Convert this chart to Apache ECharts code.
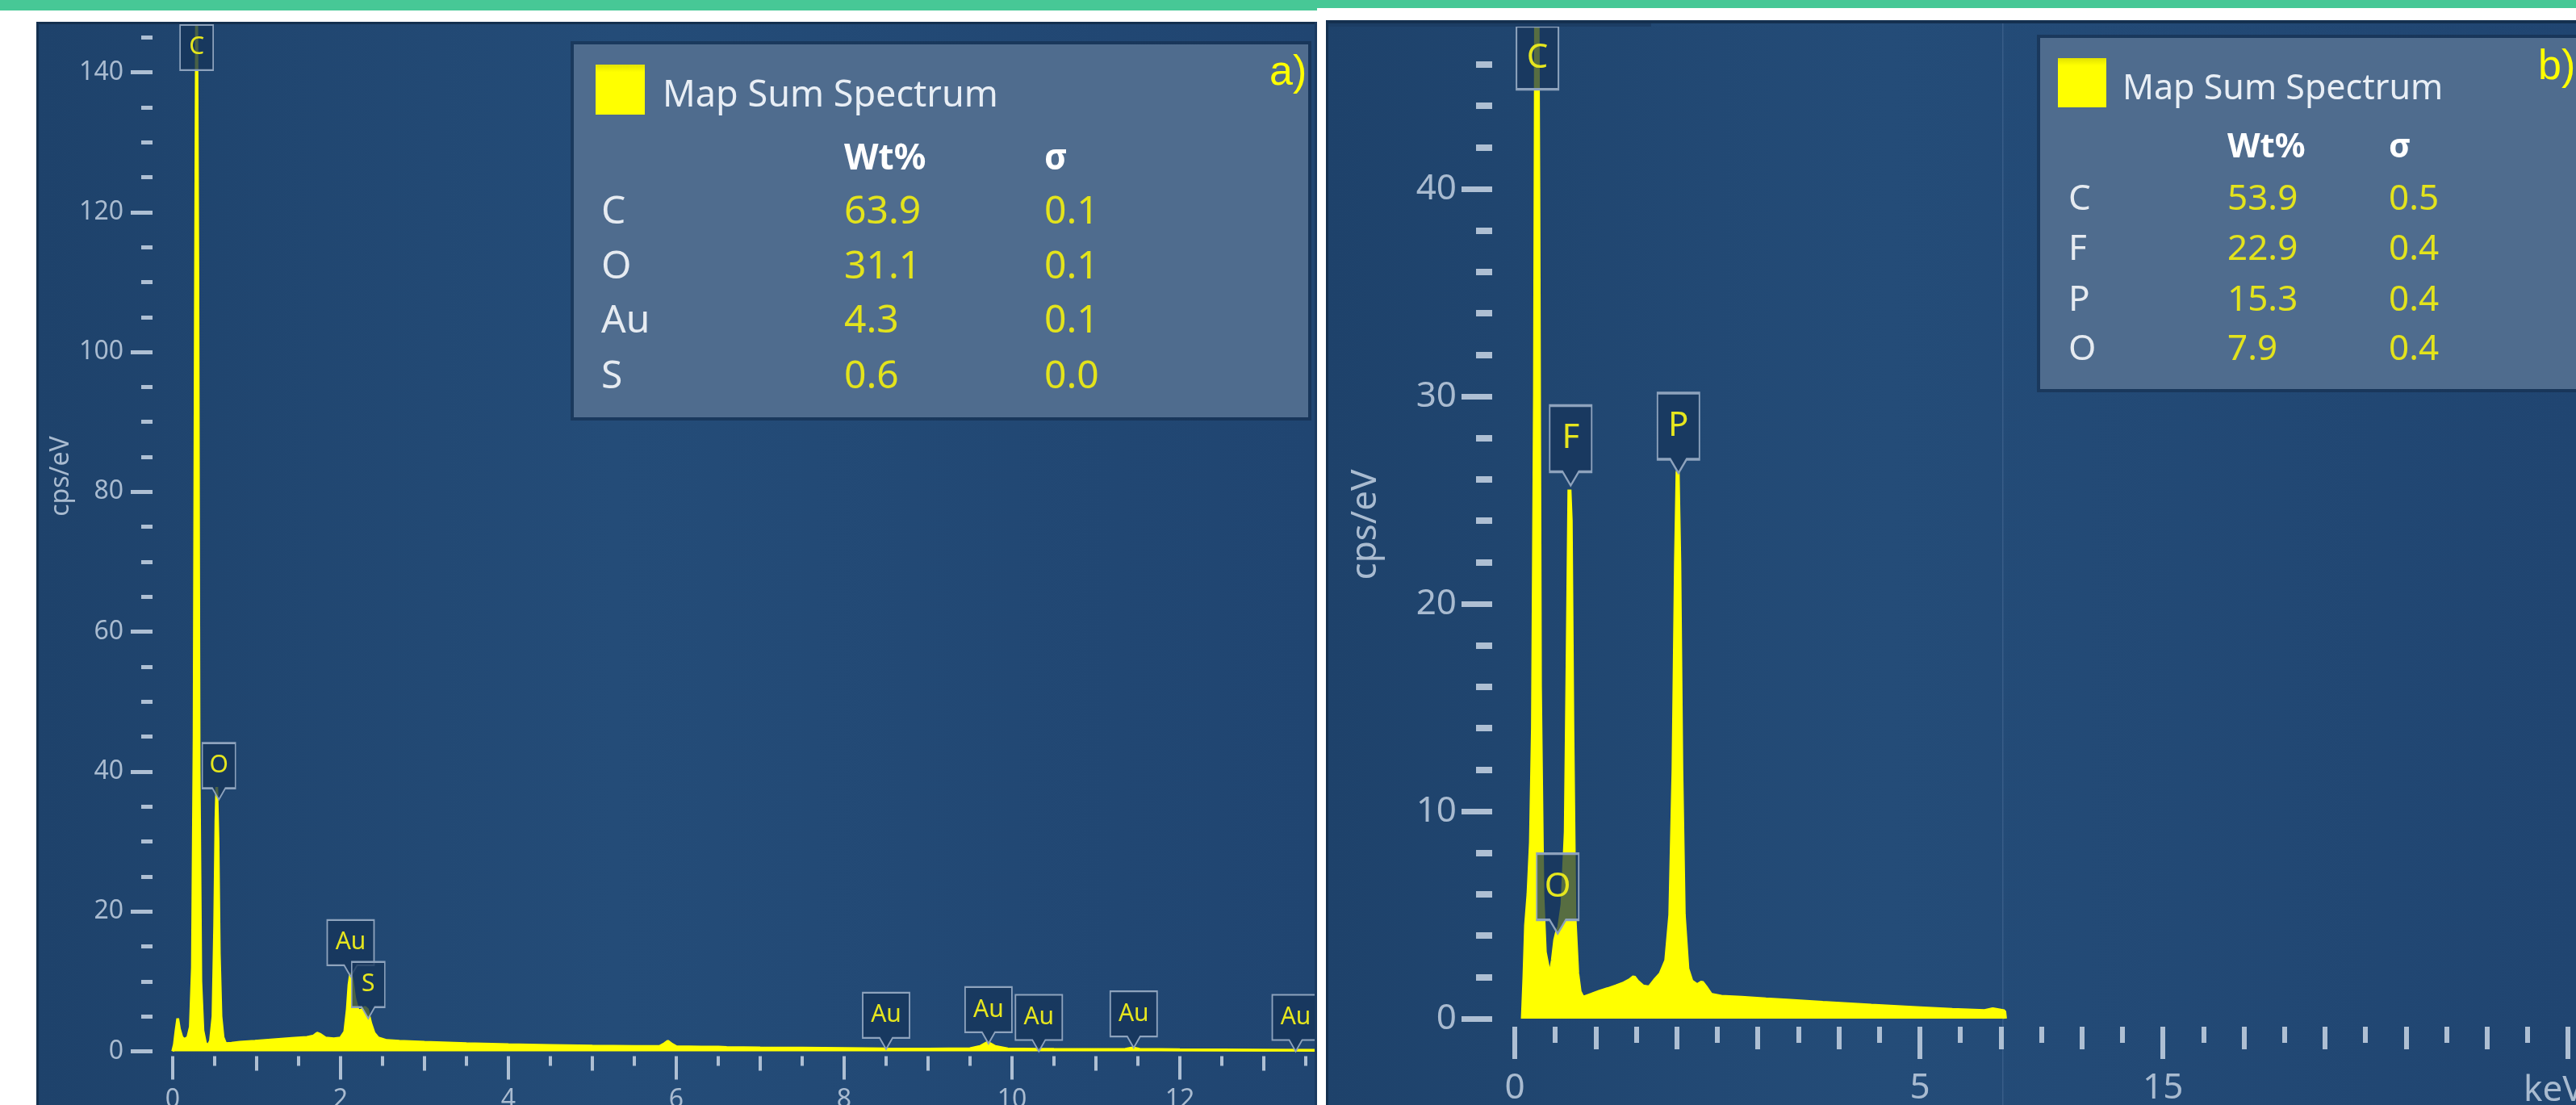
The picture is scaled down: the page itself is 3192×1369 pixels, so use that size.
<!DOCTYPE html>
<html><head><meta charset="utf-8">
<script src="https://cdn.jsdelivr.net/npm/echarts@6/dist/echarts.min.js"></script>
<style>html,body{margin:0;padding:0;background:#fff}#c{width:3192px;height:1369px}</style>
</head><body><div id="c"></div>
<script>
// ---------------- DATA ----------------
// Panel a) spectrum: [keV, cps/eV]
const spectrumA = [[0.00,0.0],[0.02,1.0],[0.04,3.0],[0.06,4.7],[0.08,3.2],[0.11,2.0],[0.14,1.7],[0.18,2.0],[0.21,3.5],[0.235,12],[0.255,45],[0.27,105],[0.285,152],[0.30,110],[0.315,40],[0.335,10],[0.36,3],[0.39,1.2],[0.42,0.8],[0.45,1.5],[0.48,5],[0.50,18],[0.515,33],[0.525,37.8],[0.54,30],[0.555,14],[0.575,5],[0.60,2],[0.63,1.1],[0.70,1.15],[0.80,1.3],[0.98,1.45],[1.20,1.65],[1.42,1.85],[1.60,2.0],[1.68,2.2],[1.72,2.6],[1.76,2.4],[1.82,1.9],[1.92,1.8],[2.00,1.9],[2.05,2.8],[2.08,6],[2.10,9.5],[2.12,11.2],[2.14,10],[2.17,7.5],[2.21,5.8],[2.25,5.9],[2.29,6.3],[2.32,6.0],[2.36,4.0],[2.40,2.6],[2.45,1.9],[2.55,1.55],[2.70,1.45],[3.00,1.3],[3.50,1.1],[4.00,0.95],[4.50,0.85],[5.00,0.75],[5.50,0.68],[5.80,0.68],[5.86,1.1],[5.90,1.45],[5.95,1.0],[6.00,0.65],[6.30,0.6],[6.50,0.62],[6.60,0.55],[7.00,0.5],[7.50,0.45],[8.00,0.4],[8.50,0.36],[9.00,0.33],[9.50,0.38],[9.62,0.7],[9.71,1.3],[9.80,0.7],[9.95,0.35],[10.30,0.3],[10.50,0.28],[11.00,0.25],[11.35,0.3],[11.44,0.5],[11.52,0.3],[12.00,0.22],[12.50,0.2],[13.00,0.18],[13.70,0.15]];
// Panel b) spectrum
const spectrumB = [[0.10,0.0],[0.12,2.0],[0.14,4.5],[0.17,6.0],[0.20,8.5],[0.225,14],[0.25,30],[0.265,50],[0.275,53],[0.29,40],[0.31,16],[0.34,6],[0.37,3.2],[0.41,2.4],[0.44,2.1],[0.47,2.8],[0.50,3.8],[0.525,4.2],[0.55,4.4],[0.59,5.5],[0.63,9],[0.655,18],[0.675,25.5],[0.69,24],[0.71,14],[0.735,5],[0.77,2.2],[0.80,1.3],[0.84,1.0],[0.95,1.15],[1.05,1.3],[1.15,1.42],[1.25,1.55],[1.35,1.7],[1.42,1.85],[1.47,2.0],[1.51,1.8],[1.58,1.55],[1.66,1.5],[1.73,1.85],[1.80,2.15],[1.87,2.8],[1.92,5],[1.96,12],[1.99,22],[2.01,26.4],[2.03,22],[2.055,12],[2.085,5],[2.13,2.4],[2.18,1.8],[2.25,1.6],[2.31,1.75],[2.35,1.55],[2.42,1.15],[2.55,1.05],[2.80,1.0],[3.10,0.92],[3.40,0.86],[3.80,0.76],[4.40,0.62],[5.00,0.5],[5.40,0.42],[5.80,0.36],[5.90,0.45],[5.97,0.4],[6.04,0.35],[6.05,0]];

// Peak identification markers: element, energy (keV), marker height (cps/eV)
const peakNamesA = ['C','O','Au','S','Au','Au','Au','Au','Au'];
const peakEnergiesA = [0.285,0.55,2.12,2.33,8.5,9.72,10.32,11.45,13.38];
const peakHeightsA = [140.3,36,10.7,4.7,0.3,1.1,0,0.5,0];
const peakNamesB = ['C','F','P','O'];
const peakEnergiesB = [0.28,0.69,2.02,0.53];
const peakHeightsB = [44.8,25.7,26.3,4.1];

// Quantification tables
const elementsA = ['C','O','Au','S'];
const wtA = [63.9,31.1,4.3,0.6];
const sigmaA = [0.1,0.1,0.1,0.0];
const elementsB = ['C','F','P','O'];
const wtB = [53.9,22.9,15.3,7.9];
const sigmaB = [0.5,0.4,0.4,0.4];

// Tick labels
const xLabelValuesA = [0,2,4,6,8,10,12];
const xLabelValuesB = [0,5,8];
const xLabelTextB = ['0','5','15'];
const xLongTicksB = [0,5,8,13];
const legendTitle = 'Map Sum Spectrum';
const yAxisTitle = 'cps/eV';

// ---------------- STYLE / LAYOUT ----------------
const FONT = 'Noto Sans';
const AXIS_TXT = '#a9bbd0';
const TICK = '#aebfd3';
const YEL = '#ffff00';
const VAL_YEL = '#e3e31c';

// panel a geometry
const A = {left:214, zeroY:1302.5, pxPerY:8.664, yMax:160, xMax:13.71, pxPerX:104, tickY:1308.5, yAxisX:189};
// panel b geometry
const B = {left:1877, zeroY:1262, pxPerY:25.7, yMax:50, xMax:13.2, pxPerX:100.4, tickY:1272, yAxisX:1849};

const chart = echarts.init(document.getElementById('c'), null, {renderer:'canvas'});

function markers(names, es, vs, cfg){
  return names.map((n,i)=>{
    const w = cfg.pad + cfg.charW*n.length;
    const clamped = vs[i] >= cfg.clampAbove;
    const r = clamped ? cfg.clampH : cfg.rectH;
    const p = clamped ? 0 : cfg.ptrH;
    const hw = w/2, pw = cfg.ptrW;
    const path = clamped
      ? `path://M0,0 H${w} V${r} H0 Z`
      : `path://M0,0 H${w} V${r} H${hw+pw} L${hw},${r+p} L${hw-pw},${r} H0 Z`;
    return {
      coord:[es[i], vs[i]],
      symbol:path, symbolSize:[w, r+p], symbolKeepAspect:false,
      symbolOffset:[0, -(r+p)/2],
      label:{show:true, position:'inside', formatter:n, offset:[0,-p/2], color:'#e6e61e',
        fontSize:cfg.font, fontFamily:FONT}
    };
  });
}
const mkA = markers(peakNamesA, peakEnergiesA, peakHeightsA, {pad:24,charW:17,rectH:56,ptrH:14,ptrW:8,clampAbove:100,clampH:56,font:30});
const mkB = markers(peakNamesB, peakEnergiesB, peakHeightsB, {pad:22,charW:30,rectH:82,ptrH:17,ptrW:10,clampAbove:40,clampH:78,font:42});

const gridBase = {outerBoundsMode:'none', containLabel:false};
function mainGrid(P){ return Object.assign({left:P.left, top:P.zeroY-P.yMax*P.pxPerY, width:P.xMax*P.pxPerX, height:P.yMax*P.pxPerY}, gridBase); }
function xTickGrid(P){ return Object.assign({left:P.left, top:0, width:P.xMax*P.pxPerX, height:P.tickY}, gridBase); }
function yTickGrid(P){ return Object.assign({left:P.yAxisX, top:P.zeroY-P.yMax*P.pxPerY, width:20, height:P.yMax*P.pxPerY}, gridBase); }

const hidden = (grid, min, max) => ({gridIndex:grid, type:'value', min:min, max:max, show:false});
function xTicks(grid, max, interval, len, width, extra){
  return Object.assign({
    gridIndex:grid, type:'value', min:0, max:max, interval:interval, position:'bottom',
    axisLine:{show:false}, splitLine:{show:false},
    axisTick:{show:true, inside:false, length:len, lineStyle:{color:TICK, width:width}},
    axisLabel:{show:false}
  }, extra||{});
}

const option = {
  animation:false,
  backgroundColor:'#ffffff',
  textStyle:{fontFamily:FONT},
  grid:[mainGrid(A), mainGrid(B), xTickGrid(A), yTickGrid(A), xTickGrid(B), yTickGrid(B)],
  xAxis:[
    hidden(0, 0, A.xMax),                  // 0
    hidden(1, 0, B.xMax),                  // 1
    xTicks(2, A.xMax, 0.5, 12, 4),         // 2
    xTicks(2, A.xMax, 1, 18, 4),           // 3
    xTicks(2, A.xMax, 2, 29, 4, {          // 4
      axisTick:{show:true, length:29, customValues:xLabelValuesA, lineStyle:{color:TICK, width:4}},
      axisLabel:{show:true, customValues:xLabelValuesA, margin:38, color:AXIS_TXT, fontSize:32, fontFamily:FONT}
    }),
    xTicks(4, B.xMax, 0.5, 20, 6),         // 5
    xTicks(4, B.xMax, 1, 28, 6),           // 6
    xTicks(4, B.xMax, 1, 40, 6, {          // 7
      axisTick:{show:true, length:40, customValues:xLongTicksB, lineStyle:{color:TICK, width:6}},
      axisLabel:{show:true, customValues:xLabelValuesB, margin:54, color:AXIS_TXT, fontSize:44, fontFamily:FONT,
        formatter:v=>xLabelTextB[xLabelValuesB.indexOf(v)]}
    }),
    hidden(3, 0, 1),                       // 8
    hidden(5, 0, 1)                        // 9
  ],
  yAxis:[
    hidden(0, 0, A.yMax),                  // 0
    hidden(1, 0, B.yMax),                  // 1
    hidden(2, 0, 1),                       // 2
    hidden(4, 0, 1),                       // 3
    {gridIndex:3, type:'value', min:0, max:A.yMax, interval:20, position:'left',
      axisLine:{show:false}, splitLine:{show:false},
      axisTick:{show:true, length:27, lineStyle:{color:TICK, width:5}},
      minorTick:{show:true, splitNumber:4, length:14, lineStyle:{color:TICK, width:5}},
      axisLabel:{margin:36, color:AXIS_TXT, fontSize:32, fontFamily:FONT}},
    {gridIndex:5, type:'value', min:0, max:B.yMax, interval:10, position:'left',
      axisLine:{show:false}, splitLine:{show:false},
      axisTick:{show:true, length:38, lineStyle:{color:TICK, width:7}},
      minorTick:{show:true, splitNumber:5, length:20, lineStyle:{color:TICK, width:8}},
      axisLabel:{margin:44, color:AXIS_TXT, fontSize:44, fontFamily:FONT}}
  ],
  series:[
    {type:'line', xAxisIndex:0, yAxisIndex:0, data:spectrumA, symbol:'none', smooth:false,
      lineStyle:{color:YEL, width:3.5}, areaStyle:{color:YEL, opacity:1},
      markPoint:{data:mkA, itemStyle:{color:'rgba(22,52,90,0.78)', borderColor:'#8ea3bd', borderWidth:2}}},
    {type:'line', xAxisIndex:1, yAxisIndex:1, data:spectrumB, symbol:'none', smooth:false,
      lineStyle:{color:YEL, width:5}, areaStyle:{color:YEL, opacity:1},
      markPoint:{data:mkB, itemStyle:{color:'rgba(22,52,90,0.72)', borderColor:'#8ea3bd', borderWidth:2.5}}}
  ],
  graphic:{elements:[]}
};

const G = option.graphic.elements;
const panelGrad = () => new echarts.graphic.LinearGradient(0,0,1,0,[
  {offset:0,color:'#1e426b'},{offset:0.45,color:'#244c78'},{offset:1,color:'#204571'}]);
// panel backgrounds
G.push({type:'rect', z:-10, shape:{x:45,y:27,width:1587,height:1342}, style:{fill:panelGrad()}});
G.push({type:'rect', z:-10, shape:{x:1643,y:25,width:1549,height:1344}, style:{fill:panelGrad()}});
// seam in panel b
G.push({type:'rect', z:-9, shape:{x:2481,y:25,width:1.5,height:1344}, style:{fill:'rgba(130,160,200,0.22)'}});
// top strips & gaps (cover)
G.push({type:'rect', z:100, shape:{x:0,y:0,width:1632,height:13}, style:{fill:'#47c896'}});
G.push({type:'rect', z:100, shape:{x:1632,y:0,width:1560,height:10}, style:{fill:'#47c896'}});
G.push({type:'rect', z:100, shape:{x:0,y:13,width:1632,height:14}, style:{fill:'#ffffff'}});
G.push({type:'rect', z:100, shape:{x:1632,y:10,width:1560,height:15}, style:{fill:'#ffffff'}});
G.push({type:'rect', z:100, shape:{x:0,y:13,width:45,height:1356}, style:{fill:'#ffffff'}});
G.push({type:'rect', z:100, shape:{x:1632,y:25,width:11,height:1344}, style:{fill:'#ffffff'}});
// panel edge shadows
G.push({type:'rect', z:100, shape:{x:45,y:27,width:1587,height:3}, style:{fill:'#14304f'}});
G.push({type:'rect', z:100, shape:{x:45,y:27,width:3,height:1342}, style:{fill:'#14304f'}});
G.push({type:'rect', z:100, shape:{x:1643,y:25,width:1549,height:4}, style:{fill:'#14304f'}});
G.push({type:'rect', z:100, shape:{x:1646,y:29,width:400,height:4}, style:{fill:'#1c3d64'}});
G.push({type:'rect', z:100, shape:{x:1643,y:25,width:3,height:1344}, style:{fill:'#14304f'}});
G.push({type:'rect', z:100, shape:{x:1629,y:27,width:3,height:1342}, style:{fill:'#1a3a60'}});

// axis titles
G.push({type:'text', z:5, x:76, y:590, rotation:Math.PI/2,
  style:{text:yAxisTitle, fill:AXIS_TXT, fontSize:32, fontFamily:FONT, align:'center', verticalAlign:'middle'}});
G.push({type:'text', z:5, x:1692, y:650, rotation:Math.PI/2,
  style:{text:yAxisTitle, fill:AXIS_TXT, fontSize:44, fontFamily:FONT, align:'center', verticalAlign:'middle'}});
G.push({type:'text', z:5, x:3127, y:1351, style:{text:'keV', fill:AXIS_TXT, fontSize:44, fontFamily:FONT, align:'left', verticalAlign:'middle'}});

function infoBox(b){
  G.push({type:'rect', z:50, shape:{x:b.x-4,y:b.y-4,width:b.w+8,height:b.h+8}, style:{fill:'rgba(15,35,62,0.45)'}});
  G.push({type:'rect', z:51, shape:{x:b.x,y:b.y,width:b.w,height:b.h}, style:{fill:'#4f6c8e'}});
  G.push({type:'rect', z:52, shape:{x:b.sq[0],y:b.sq[1],width:b.sq[2],height:b.sq[3]},
    style:{fill:new echarts.graphic.LinearGradient(0,0,0,1,[{offset:0,color:'#e2e200'},{offset:0.15,color:'#ffff00'},{offset:1,color:'#ffff00'}])}});
  G.push({type:'text', z:52, x:b.tx, y:b.ty, style:{text:legendTitle, fill:'#e8eef5', fontSize:b.tf, fontFamily:FONT, align:'left', verticalAlign:'middle'}});
  G.push({type:'text', z:52, x:b.cols[1], y:b.hy, style:{text:'Wt%', fill:'#ffffff', fontSize:b.hf, fontWeight:'bold', fontFamily:FONT, align:'left', verticalAlign:'middle'}});
  G.push({type:'text', z:52, x:b.cols[2], y:b.hy, style:{text:'σ', fill:'#ffffff', fontSize:b.hf, fontWeight:'bold', fontFamily:FONT, align:'left', verticalAlign:'middle'}});
  b.el.forEach((e,i)=>{
    const y = b.rows[i];
    G.push({type:'text', z:52, x:b.cols[0], y:y, style:{text:e, fill:'#e6ebf1', fontSize:b.rf, fontFamily:FONT, align:'left', verticalAlign:'middle'}});
    G.push({type:'text', z:52, x:b.cols[1], y:y, style:{text:b.wt[i].toFixed(1), fill:VAL_YEL, fontSize:b.rf, fontFamily:FONT, align:'left', verticalAlign:'middle'}});
    G.push({type:'text', z:52, x:b.cols[2], y:y, style:{text:b.sg[i].toFixed(1), fill:VAL_YEL, fontSize:b.rf, fontFamily:FONT, align:'left', verticalAlign:'middle'}});
  });
}
infoBox({x:711,y:55,w:910,h:462, sq:[738,80,61,62], tx:821, ty:119, tf:45, hy:197, hf:44,
  cols:[745,1046,1294], rows:[263,331,398,467], rf:48, el:elementsA, wt:wtA, sg:sigmaA});
infoBox({x:2528,y:47,w:700,h:435, sq:[2550,72,60,61], tx:2630, ty:111, tf:43, hy:183, hf:42,
  cols:[2563,2760,2960], rows:[247,309,372,433], rf:44, el:elementsB, wt:wtB, sg:sigmaB});

// panel tags
G.push({type:'text', z:60, x:1573, y:91, style:{text:'a)', fill:'#ffff00', fontSize:52, fontFamily:'Liberation Sans', align:'left', verticalAlign:'middle'}});
G.push({type:'text', z:60, x:3145, y:84, style:{text:'b)', fill:'#ffff00', fontSize:52, fontFamily:'Liberation Sans', align:'left', verticalAlign:'middle'}});

chart.setOption(option);
</script>
</body></html>
